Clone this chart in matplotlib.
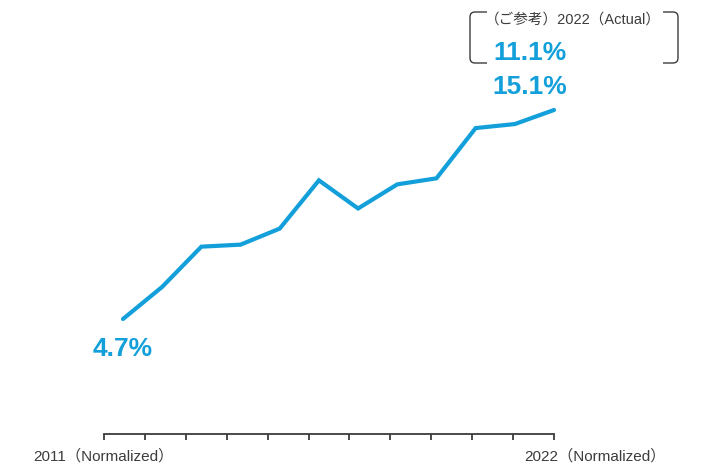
import matplotlib.pyplot as plt
from matplotlib.patches import FancyBboxPatch
from matplotlib.path import Path
from matplotlib.patches import PathPatch

plt.rcParams['font.family'] = ['Liberation Sans', 'Noto Sans CJK JP', 'DejaVu Sans']

years = list(range(2011, 2023))
values = [4.7, 6.3, 8.3, 8.4, 9.2, 11.6, 10.2, 11.4, 11.7, 14.2, 14.4, 15.1]
start_label = "4.7%"
end_label = "15.1%"
actual_label = "11.1%"
note_text = "（ご参考）2022（Actual）"
axis_left = "2011（Normalized）"
axis_right = "2022（Normalized）"

BLUE = "#129fda"
GRAY = "#3c3c3c"

W, H = 721, 468
fig = plt.figure(figsize=(W / 100, H / 100), dpi=100)

# main line axes (invisible frame)
ax = fig.add_axes([0, 0, 1, 1])
ax.set_xlim(2007.861, 2026.262)
ax.set_ylim(-2.713, 20.573)
ax.axis("off")
ax.plot(years, values, color=BLUE, lw=3.0, solid_capstyle="round", solid_joinstyle="miter")

ax.text(years[0], values[0] - 1.5, start_label, color=BLUE, fontsize=19,
        fontweight="bold", ha="center", va="center")

# overlay in pixel coordinates for annotation box and ruler
ov = fig.add_axes([0, 0, 1, 1], facecolor="none")
ov.set_xlim(0, W)
ov.set_ylim(H, 0)
ov.axis("off")

ov.text(530, 53, actual_label, color=BLUE, fontsize=19, fontweight="bold",
        ha="center", va="center")
ov.text(530, 87, end_label, color=BLUE, fontsize=19, fontweight="bold",
        ha="center", va="center")
ov.text(573, 20, note_text, color=GRAY, fontsize=10.5, ha="center", va="center")

# brackets around the note
r = 5
lb = Path([(487, 12), (470 + r, 12), (470, 12), (470, 12 + r), (470, 63 - r),
           (470, 63), (470 + r, 63), (487, 63)],
          [Path.MOVETO, Path.LINETO, Path.CURVE3, Path.CURVE3, Path.LINETO,
           Path.CURVE3, Path.CURVE3, Path.LINETO])
rb = Path([(663, 12), (678 - r, 12), (678, 12), (678, 12 + r), (678, 63 - r),
           (678, 63), (678 - r, 63), (663, 63)],
          [Path.MOVETO, Path.LINETO, Path.CURVE3, Path.CURVE3, Path.LINETO,
           Path.CURVE3, Path.CURVE3, Path.LINETO])
for p in (lb, rb):
    ov.add_patch(PathPatch(p, fill=False, edgecolor=GRAY, lw=1.0))

# year ruler
ru = fig.add_axes([104 / W, 0, (554 - 104) / W, 1], facecolor="none")
ru.set_xlim(years[0], years[-1])
ru.set_ylim(H, 0)
ru.axis("off")
ru.plot([years[0], years[-1]], [434, 434], color=GRAY, lw=1.3, clip_on=False)
ru.vlines(years, 434, 440, color=GRAY, lw=1.3, clip_on=False)

ov.text(103, 456, axis_left, color=GRAY, fontsize=11, ha="center", va="center")
ov.text(595, 456, axis_right, color=GRAY, fontsize=11, ha="center", va="center")

fig.savefig("out.png", dpi=100)
